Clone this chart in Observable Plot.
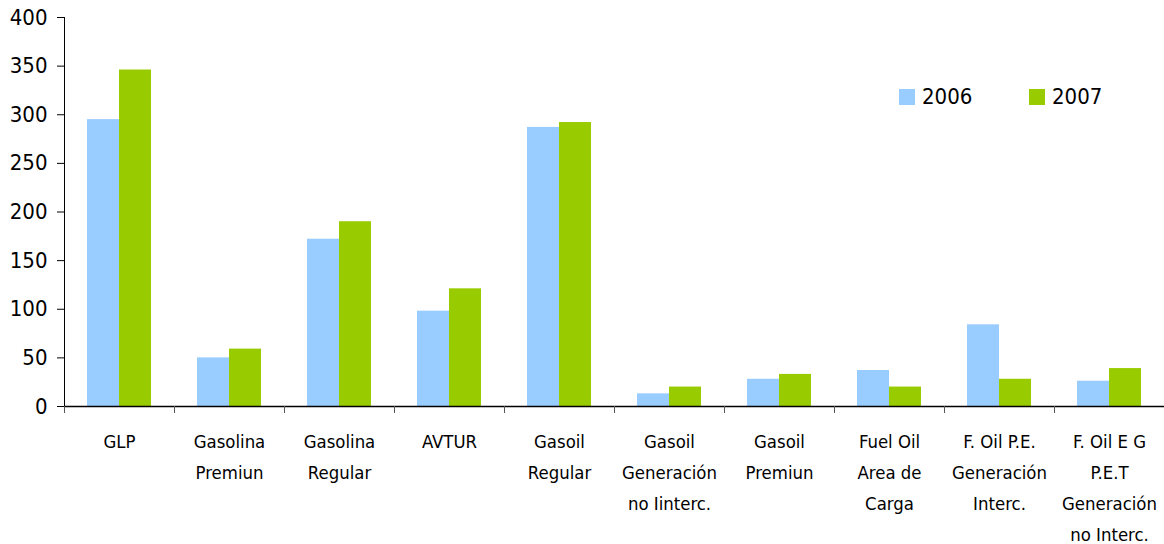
<!DOCTYPE html>
<html>
<head>
<meta charset="utf-8">
<script src="https://cdn.jsdelivr.net/npm/d3@7"></script>
<script src="https://cdn.jsdelivr.net/npm/@observablehq/plot@0.6"></script>
<style>
  html, body { margin: 0; padding: 0; background: #fff; }
  #wrap { position: relative; width: 1164px; height: 544px; font-family: "DejaVu Sans Condensed", "DejaVu Sans", sans-serif; }
  .leg { position: absolute; top: 84px; display: flex; align-items: center; font-size: 22px; color: #000; }
  .sw { width: 16px; height: 16px; margin-right: 7px; }
</style>
</head>
<body>
<div id="wrap"></div>
<script>
const categories = [
  "GLP",
  "Gasolina\nPremiun",
  "Gasolina\nRegular",
  "AVTUR",
  "Gasoil\nRegular",
  "Gasoil\nGeneración\nno Iinterc.",
  "Gasoil\nPremiun",
  "Fuel Oil\nArea de\nCarga",
  "F. Oil P.E.\nGeneración\nInterc.",
  "F. Oil E G\nP.E.T\nGeneración\nno Interc."
];
const years = ["2006", "2007"];
const values2006 = [295, 50, 172, 98, 287, 13, 28, 37, 84, 26];
const values2007 = [346, 59, 190, 121, 292, 20, 33, 20, 28, 39];
const colors = ["#99CCFF", "#99CC00"];
const yTicks = [0, 50, 100, 150, 200, 250, 300, 350, 400];

const rows2006 = categories.map((c, i) => ({category: c, year: years[0], value: values2006[i]}));
const rows2007 = categories.map((c, i) => ({category: c, year: years[1], value: values2007[i]}));

const font = '"DejaVu Sans Condensed", "DejaVu Sans", sans-serif';

const chart = Plot.plot({
  width: 1164,
  height: 544,
  marginLeft: 64,
  marginRight: 0,
  marginTop: 17,
  marginBottom: 138,
  style: {fontFamily: font, color: "#000", background: "#fff"},
  x: {domain: categories, padding: 0, axis: null, label: null},
  y: {domain: [0, 400], axis: null, label: null},
  color: {domain: years, range: colors},
  marks: [
    Plot.barY(rows2006, {x: "category", y: "value", fill: "year", insetLeft: 23, insetRight: 55}),
    Plot.barY(rows2007, {x: "category", y: "value", fill: "year", insetLeft: 55, insetRight: 23}),
    Plot.axisY({ticks: yTicks, tickSize: 7, tickPadding: 10, fontSize: 22, stroke: "#000", strokeOpacity: 1, label: null, tickFormat: d => String(d)}),
    Plot.frame({anchor: "left", stroke: "#000", strokeWidth: 1}),
    Plot.ruleY([0], {stroke: "#000", strokeWidth: 1.5}),
    Plot.axisX({tickSize: 7, tickFormat: () => "", dx: -55, stroke: "#555", strokeOpacity: 1, label: null}),
    Plot.axisX({tickSize: 0, tickPadding: 20, fontSize: 18.4, lineHeight: 1.68, fill: "#000", label: null})
  ]
});

const wrap = document.getElementById("wrap");
wrap.appendChild(chart);

const legPos = [899, 1029];
years.forEach((y, i) => {
  const d = document.createElement("div");
  d.className = "leg";
  d.style.left = legPos[i] + "px";
  const sw = document.createElement("div");
  sw.className = "sw";
  sw.style.background = colors[i];
  const t = document.createElement("span");
  t.textContent = y;
  d.appendChild(sw);
  d.appendChild(t);
  wrap.appendChild(d);
});
</script>
</body>
</html>
